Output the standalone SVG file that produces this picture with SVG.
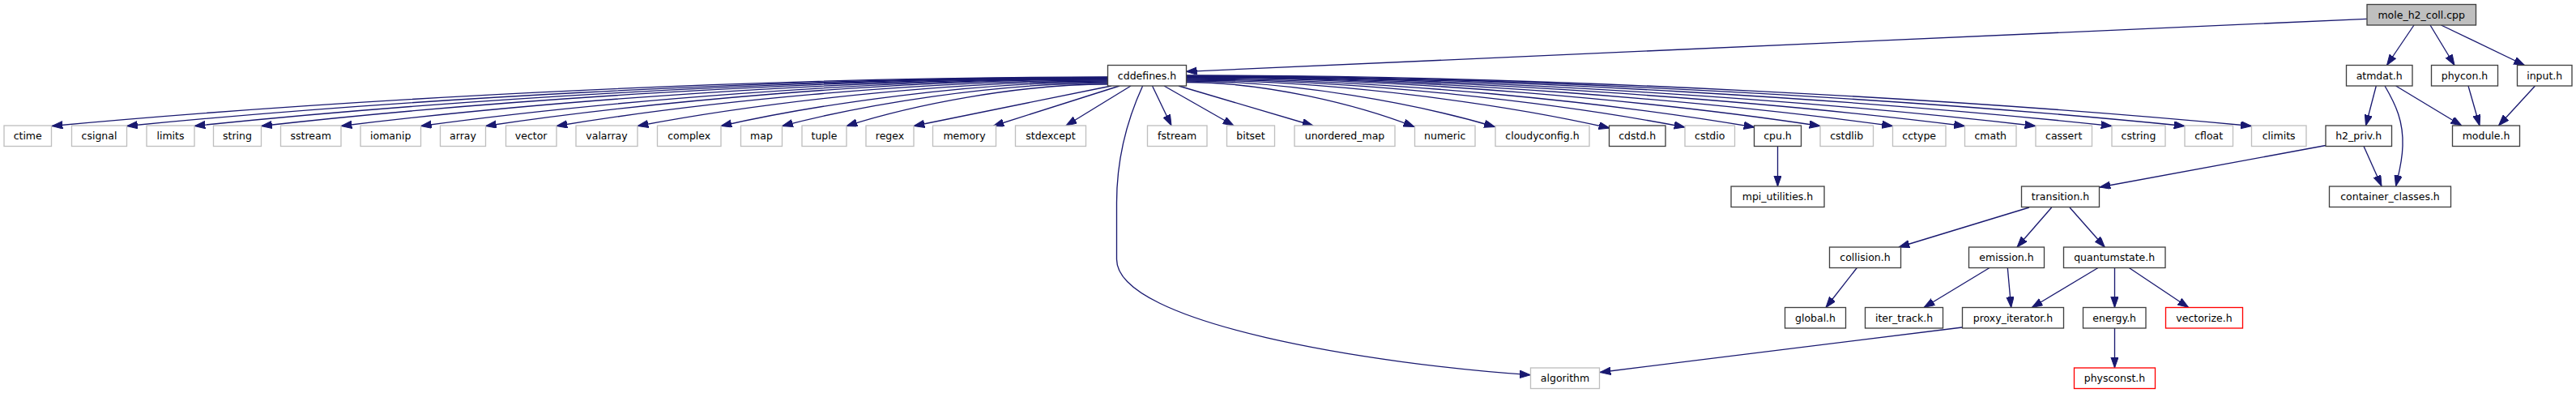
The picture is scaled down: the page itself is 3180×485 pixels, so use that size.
<svg xmlns="http://www.w3.org/2000/svg" width="3180" height="485" viewBox="0 0 3180 485">
<style>
rect{stroke-width:1.33;fill:#ffffff}
.d{stroke:#404040}
.x{stroke:#bfbfbf}
.r{stroke:#ff0000}
.root{stroke:#404040;fill:#bfbfbf}
text{font-family:"DejaVu Sans",sans-serif;font-size:12.5px;text-anchor:middle;fill:#000000}
.e path{fill:none;stroke:#191970;stroke-width:1.33;marker-end:url(#ah)}
</style>
<defs>
<marker id="ah" markerUnits="userSpaceOnUse" markerWidth="14" markerHeight="10" refX="13.3" refY="4.67" orient="auto">
<path d="M0,0 L13.3,4.67 L0,9.33 z" fill="#191970" stroke="#191970" stroke-width="1"/>
</marker>
</defs>
<rect x="0" y="0" width="3180" height="485" fill="#ffffff" style="stroke:none"/>
<g class="e" id="edges">
<path d="M2921.8,23.3 L1464.3,88.3"/>
<path d="M2980,31 L2946.5,80.5"/>
<path d="M3000,31 L3030,80.5"/>
<path d="M3013.5,31 L3116.5,80.5"/>
<path d="M2933.3,106 L2920.5,155"/>
<path d="M2944,106 C2958,130 2967,150 2966,180 C2965.5,200 2961,215 2957.6,229.7"/>
<path d="M2957.6,106 L3038.8,155"/>
<path d="M3047,106 L3061,155"/>
<path d="M3129.5,106 L3084.5,155"/>
<path d="M2918,180.5 L2940,229.7"/>
<path d="M2871,179.5 L2592,231"/>
<path d="M2194.5,180.5 L2194.5,230"/>
<path d="M2505,256 L2344,305"/>
<path d="M2532.7,256 L2490,305"/>
<path d="M2555,256 L2598.3,305"/>
<path d="M2292.3,330.5 L2254,379.5"/>
<path d="M2456,330.5 L2375,379.5"/>
<path d="M2478.3,330.5 L2482.7,379.5"/>
<path d="M2590,330.5 L2508.3,379.5"/>
<path d="M2610.5,330.5 L2610.5,379.5"/>
<path d="M2628.3,330.5 L2701.7,379.5"/>
<path d="M2610.5,405 L2610.5,454"/>
<path d="M2422.3,404 L1975,459.5"/>
<path d="M1410.6,106 C1395,140 1378.5,190 1378.5,250 L1378.5,320 C1378.5,400 1700,450 1889.4,462.7"/>
<path d="M1367.5,95 C911.3,95 389.9,125.3 64,155.5"/>
<path d="M1367.5,95.5 C943.6,95.5 459.2,125.5 156.5,155.5"/>
<path d="M1367.5,96 C972.9,96 521.9,125.8 240,155.5"/>
<path d="M1367.5,96.5 C1001.7,96.5 583.7,126 322.5,155.5"/>
<path d="M1367.5,97 C1036.2,97 657.6,126.3 421,155.5"/>
<path d="M1367.5,97.5 C1070.7,97.5 731.5,126.5 519.5,155.5"/>
<path d="M1367.5,98 C1098.7,98 791.5,126.8 599.5,155.5"/>
<path d="M1367.5,99 C1129.3,99 857.1,127.3 687,155.5"/>
<path d="M1367.5,100 C1164.3,100 932.1,127.8 787,155.5"/>
<path d="M1367.5,101 C1200.4,101 1009.4,128.3 890,155.5"/>
<path d="M1367.5,102.5 C1226.8,102.5 1066,129 965.5,155.5"/>
<path d="M1367.5,104 C1254.6,104 1125.6,129.8 1045,155.5"/>
<path d="M1372,106 L1128,155.5"/>
<path d="M1382,106 L1226,155.5"/>
<path d="M1396,106 L1316,155"/>
<path d="M1422.5,106 L1446,155"/>
<path d="M1437,106 L1523,155"/>
<path d="M1455,106 L1621,155"/>
<path d="M1464.3,101.5 C1562.9,101.5 1675.6,129 1746,156.5"/>
<path d="M1464.3,100 C1597.7,100 1750.2,128.3 1845.5,156.5"/>
<path d="M1464.3,99 C1647.2,99 1856.3,128.5 1987,158"/>
<path d="M1464.3,98 C1679.8,98 1926.1,127.5 2080,157"/>
<path d="M1464.3,97 C1709.9,97 1990.6,127 2166,157"/>
<path d="M1464.3,96 C1738.2,96 2051.3,125.8 2247,155.5"/>
<path d="M1464.3,95.5 C1769.6,95.5 2118.5,125.5 2336.5,155.5"/>
<path d="M1464.3,95 C1800.7,95 2185.2,125.3 2425.5,155.5"/>
<path d="M1464.3,94.5 C1831.3,94.5 2250.8,125 2513,155.5"/>
<path d="M1464.3,94 C1864.2,94 2321.3,124.8 2607,155.5"/>
<path d="M1464.3,93.5 C1895.8,93.5 2388.8,124.5 2697,155.5"/>
<path d="M1464.3,93 C1924.6,93 2450.7,124.3 2779.5,155.5"/>
</g>
<g id="n_mole"><rect class="root" x="2922" y="5.5" width="134.5" height="25.5"/><text x="2989.2" y="22.5">mole_h2_coll.cpp</text></g>
<g id="n_cddefines"><rect class="d" x="1367.5" y="80.5" width="97" height="25.5"/><text x="1416" y="97.5">cddefines.h</text></g>
<g id="n_atmdat"><rect class="d" x="2896.5" y="80.5" width="81.5" height="25.5"/><text x="2937.2" y="97.5">atmdat.h</text></g>
<g id="n_phycon"><rect class="d" x="3001.5" y="80.5" width="82" height="25.5"/><text x="3042.5" y="97.5">phycon.h</text></g>
<g id="n_input"><rect class="d" x="3107.5" y="80.5" width="67.5" height="25.5"/><text x="3141.2" y="97.5">input.h</text></g>
<g id="n_ctime"><rect class="x" x="5" y="155" width="58.5" height="25.5"/><text x="34.2" y="172">ctime</text></g>
<g id="n_csignal"><rect class="x" x="88.5" y="155" width="68" height="25.5"/><text x="122.5" y="172">csignal</text></g>
<g id="n_limits"><rect class="x" x="181" y="155" width="59" height="25.5"/><text x="210.5" y="172">limits</text></g>
<g id="n_string"><rect class="x" x="263.5" y="155" width="59" height="25.5"/><text x="293" y="172">string</text></g>
<g id="n_sstream"><rect class="x" x="346.5" y="155" width="74.5" height="25.5"/><text x="383.7" y="172">sstream</text></g>
<g id="n_iomanip"><rect class="x" x="445" y="155" width="74.5" height="25.5"/><text x="482.2" y="172">iomanip</text></g>
<g id="n_array"><rect class="x" x="543.5" y="155" width="56" height="25.5"/><text x="571.5" y="172">array</text></g>
<g id="n_vector"><rect class="x" x="624.5" y="155" width="62.5" height="25.5"/><text x="655.7" y="172">vector</text></g>
<g id="n_valarray"><rect class="x" x="711" y="155" width="76" height="25.5"/><text x="749" y="172">valarray</text></g>
<g id="n_complex"><rect class="x" x="811.5" y="155" width="78.5" height="25.5"/><text x="850.7" y="172">complex</text></g>
<g id="n_map"><rect class="x" x="914.5" y="155" width="51" height="25.5"/><text x="940" y="172">map</text></g>
<g id="n_tuple"><rect class="x" x="990" y="155" width="55" height="25.5"/><text x="1017.5" y="172">tuple</text></g>
<g id="n_regex"><rect class="x" x="1069" y="155" width="59" height="25.5"/><text x="1098.5" y="172">regex</text></g>
<g id="n_memory"><rect class="x" x="1151.5" y="155" width="78" height="25.5"/><text x="1190.5" y="172">memory</text></g>
<g id="n_stdexcept"><rect class="x" x="1253.5" y="155" width="87" height="25.5"/><text x="1297" y="172">stdexcept</text></g>
<g id="n_fstream"><rect class="x" x="1416.5" y="155" width="73.5" height="25.5"/><text x="1453.2" y="172">fstream</text></g>
<g id="n_bitset"><rect class="x" x="1514.5" y="155" width="59" height="25.5"/><text x="1544" y="172">bitset</text></g>
<g id="n_unordered_map"><rect class="x" x="1598" y="155" width="124" height="25.5"/><text x="1660" y="172">unordered_map</text></g>
<g id="n_numeric"><rect class="x" x="1746.5" y="155" width="74.5" height="25.5"/><text x="1783.7" y="172">numeric</text></g>
<g id="n_cloudyconfig"><rect class="x" x="1846" y="155" width="116" height="25.5"/><text x="1904" y="172">cloudyconfig.h</text></g>
<g id="n_cdstd"><rect class="d" x="1986.5" y="155" width="69.5" height="25.5"/><text x="2021.2" y="172">cdstd.h</text></g>
<g id="n_cstdio"><rect class="x" x="2080" y="155" width="61.5" height="25.5"/><text x="2110.7" y="172">cstdio</text></g>
<g id="n_cpu"><rect class="d" x="2165.5" y="155" width="58" height="25.5"/><text x="2194.5" y="172">cpu.h</text></g>
<g id="n_cstdlib"><rect class="x" x="2247" y="155" width="65.5" height="25.5"/><text x="2279.7" y="172">cstdlib</text></g>
<g id="n_cctype"><rect class="x" x="2336.5" y="155" width="65.5" height="25.5"/><text x="2369.2" y="172">cctype</text></g>
<g id="n_cmath"><rect class="x" x="2425.5" y="155" width="63.5" height="25.5"/><text x="2457.2" y="172">cmath</text></g>
<g id="n_cassert"><rect class="x" x="2513" y="155" width="69.5" height="25.5"/><text x="2547.7" y="172">cassert</text></g>
<g id="n_cstring"><rect class="x" x="2607" y="155" width="66" height="25.5"/><text x="2640" y="172">cstring</text></g>
<g id="n_cfloat"><rect class="x" x="2697" y="155" width="59.5" height="25.5"/><text x="2726.7" y="172">cfloat</text></g>
<g id="n_climits"><rect class="x" x="2779.5" y="155" width="67.5" height="25.5"/><text x="2813.2" y="172">climits</text></g>
<g id="n_h2_priv"><rect class="d" x="2871" y="155" width="81.5" height="25.5"/><text x="2911.7" y="172">h2_priv.h</text></g>
<g id="n_module"><rect class="d" x="3027.5" y="155" width="83" height="25.5"/><text x="3069" y="172">module.h</text></g>
<g id="n_mpi_utilities"><rect class="d" x="2137" y="230" width="115" height="25.5"/><text x="2194.5" y="247">mpi_utilities.h</text></g>
<g id="n_transition"><rect class="d" x="2495.5" y="230" width="96" height="25.5"/><text x="2543.5" y="247">transition.h</text></g>
<g id="n_container_classes"><rect class="d" x="2875.5" y="230" width="150" height="25.5"/><text x="2950.5" y="247">container_classes.h</text></g>
<g id="n_collision"><rect class="d" x="2258.5" y="305" width="88" height="25.5"/><text x="2302.5" y="322">collision.h</text></g>
<g id="n_emission"><rect class="d" x="2430.5" y="305" width="93" height="25.5"/><text x="2477" y="322">emission.h</text></g>
<g id="n_quantumstate"><rect class="d" x="2547.5" y="305" width="125.5" height="25.5"/><text x="2610.2" y="322">quantumstate.h</text></g>
<g id="n_global"><rect class="d" x="2203.5" y="379.5" width="75" height="25.5"/><text x="2241" y="396.5">global.h</text></g>
<g id="n_iter_track"><rect class="d" x="2302.5" y="379.5" width="96" height="25.5"/><text x="2350.5" y="396.5">iter_track.h</text></g>
<g id="n_proxy_iterator"><rect class="d" x="2422.5" y="379.5" width="125" height="25.5"/><text x="2485" y="396.5">proxy_iterator.h</text></g>
<g id="n_energy"><rect class="d" x="2571.5" y="379.5" width="77.5" height="25.5"/><text x="2610.2" y="396.5">energy.h</text></g>
<g id="n_vectorize"><rect class="r" x="2673.5" y="379.5" width="95" height="25.5"/><text x="2721" y="396.5">vectorize.h</text></g>
<g id="n_algorithm"><rect class="x" x="1889.5" y="454" width="85" height="25.5"/><text x="1932" y="471">algorithm</text></g>
<g id="n_physconst"><rect class="r" x="2560.5" y="454" width="100" height="25.5"/><text x="2610.5" y="471">physconst.h</text></g>
</svg>
